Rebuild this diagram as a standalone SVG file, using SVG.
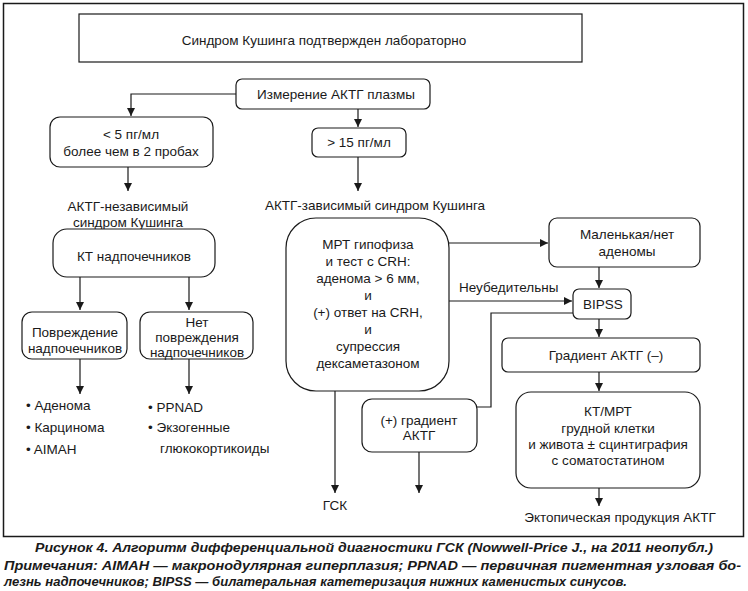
<svg xmlns="http://www.w3.org/2000/svg" width="748" height="591" viewBox="0 0 748 591">
<defs>
<marker id="ah" viewBox="0 0 10 10" refX="10" refY="5" markerWidth="8" markerHeight="8" markerUnits="userSpaceOnUse" orient="auto"><path d="M0,0 L10,5 L0,10 z" fill="#1a1a1a"/></marker>
</defs>
<style>
.b{fill:#fff;stroke:#1a1a1a;stroke-width:1.2}
.t{font-family:"Liberation Sans",Arial,sans-serif;font-size:13.5px;fill:#1a1a1a;text-anchor:middle}
.l{text-anchor:start}
.c{fill:none;stroke:#1a1a1a;stroke-width:1.2}
.cap{font-family:"Liberation Sans Narrow","Liberation Sans",Arial,sans-serif;font-size:13px;font-weight:bold;font-style:italic;fill:#1a1a1a}
</style>
<rect x="0" y="0" width="748" height="591" fill="#fff"/>
<rect x="3.5" y="3.5" width="740" height="533" fill="none" stroke="#1a1a1a" stroke-width="1.5"/>

<g id="connectors">
<path class="c" d="M236,94 H131 V116" marker-end="url(#ah)"/>
<path class="c" d="M358,109 V127" marker-end="url(#ah)"/>
<path class="c" d="M128,167 V191" marker-end="url(#ah)"/>
<path class="c" d="M358,157 V191" marker-end="url(#ah)"/>
<path class="c" d="M80,277 V310" marker-end="url(#ah)"/>
<path class="c" d="M189,277 V310" marker-end="url(#ah)"/>
<path class="c" d="M80,359 V394" marker-end="url(#ah)"/>
<path class="c" d="M189,359 V394" marker-end="url(#ah)"/>
<path class="c" d="M449,243 H548" marker-end="url(#ah)"/>
<path class="c" d="M599,267 V288" marker-end="url(#ah)"/>
<path class="c" d="M449,301 H572" marker-end="url(#ah)"/>
<path class="c" d="M573,313 H491 V407 H477"/>
<path class="c" d="M599,319 V337" marker-end="url(#ah)"/>
<path class="c" d="M599,372 V391" marker-end="url(#ah)"/>
<path class="c" d="M599,488 V506" marker-end="url(#ah)"/>
<path class="c" d="M335,391 V493" marker-end="url(#ah)"/>
<path class="c" d="M419,452 V493" marker-end="url(#ah)"/>
<text class="t l" x="459" y="292">Неубедительны</text>
</g>

<g id="n-top"><rect class="b" x="79" y="14" width="503" height="48"/><text class="t" x="324" y="45">Синдром Кушинга подтвержден лабораторно</text></g>
<g id="n-acth"><rect class="b" x="236" y="79" width="194" height="30" rx="6"/><text class="t" x="336" y="99">Измерение АКТГ плазмы</text></g>
<g id="n-lt5"><rect class="b" x="50" y="117" width="163" height="50" rx="10"/><text class="t" x="131" y="139">&lt; 5 пг/мл</text><text class="t" x="131" y="156">более чем в 2 пробах</text></g>
<g id="n-gt15"><rect class="b" x="312" y="128" width="94" height="29" rx="6"/><text class="t" x="359" y="147">&gt; 15 пг/мл</text></g>
<g id="n-indep"><text class="t" x="128" y="211">АКТГ-независимый</text><text class="t" x="128" y="227">синдром Кушинга</text></g>
<g id="n-dep"><text class="t" x="375" y="210">АКТГ-зависимый синдром Кушинга</text></g>
<g id="n-ct"><rect class="b" x="53" y="229" width="162" height="48" rx="14"/><text class="t" x="134" y="261">КТ надпочечников</text></g>
<g id="n-dmg"><rect class="b" x="22" y="312" width="105" height="47" rx="10"/><text class="t" x="75" y="337">Повреждение</text><text class="t" x="75" y="353">надпочечников</text></g>
<g id="n-nodmg"><rect class="b" x="140" y="312" width="113" height="47" rx="10"/><text class="t" x="197" y="327">Нет</text><text class="t" x="197" y="342">повреждения</text><text class="t" x="197" y="357">надпочечников</text></g>
<g id="n-list1"><text class="t l" x="26" y="410">• Аденома</text><text class="t l" x="26" y="432">• Карцинома</text><text class="t l" x="26" y="454">• AIMAH</text></g>
<g id="n-list2"><text class="t l" x="148" y="412">• PPNAD</text><text class="t l" x="148" y="432">• Экзогенные</text><text class="t l" x="160" y="453">глюкокортикоиды</text></g>
<g id="n-mri"><rect class="b" x="286" y="218" width="163" height="173" rx="30"/>
<text class="t" x="368" y="249">МРТ гипофиза</text><text class="t" x="368" y="266">и тест с CRH:</text><text class="t" x="368" y="283">аденома &gt; 6 мм,</text><text class="t" x="368" y="300">и</text><text class="t" x="368" y="317">(+) ответ на CRH,</text><text class="t" x="368" y="334">и</text><text class="t" x="368" y="351">супрессия</text><text class="t" x="368" y="368">дексаметазоном</text></g>
<g id="n-small"><rect class="b" x="549" y="218" width="151" height="49" rx="8"/><text class="t" x="627" y="239">Маленькая/нет</text><text class="t" x="627" y="256">аденомы</text></g>
<g id="n-bipss"><rect class="b" x="573" y="289" width="58" height="30" rx="6"/><text class="t" x="603" y="309">BIPSS</text></g>
<g id="n-grad-neg"><rect class="b" x="502" y="338" width="198" height="34" rx="6"/><text class="t" x="606" y="360">Градиент АКТГ (–)</text></g>
<g id="n-grad-pos"><rect class="b" x="362" y="399" width="115" height="53" rx="10"/><text class="t" x="419" y="425">(+) градиент</text><text class="t" x="419" y="440">АКТГ</text></g>
<g id="n-ctmri"><rect class="b" x="516" y="392" width="184" height="96" rx="15"/><text class="t" x="608" y="416">КТ/МРТ</text><text class="t" x="608" y="433">грудной клетки</text><text class="t" x="608" y="449">и живота ± сцинтиграфия</text><text class="t" x="608" y="465">с соматостатином</text></g>
<g id="n-gsk"><text class="t" x="335" y="510">ГСК</text></g>
<g id="n-ecto"><text class="t" x="620" y="522">Эктопическая продукция АКТГ</text></g>

<g id="caption">
<text class="cap" x="35" y="552" textLength="678" lengthAdjust="spacingAndGlyphs">Рисунок 4. Алгоритм дифференциальной диагностики ГСК (Nowwell-Price J., на 2011 неопубл.)</text>
<text class="cap" x="4" y="570" textLength="737" lengthAdjust="spacingAndGlyphs">Примечания: AIMAH — макронодулярная гиперплазия; PPNAD — первичная пигментная узловая бо-</text>
<text class="cap" x="4" y="586" textLength="623" lengthAdjust="spacingAndGlyphs">лезнь надпочечников; BIPSS — билатеральная катетеризация нижних каменистых синусов.</text>
</g>
</svg>
